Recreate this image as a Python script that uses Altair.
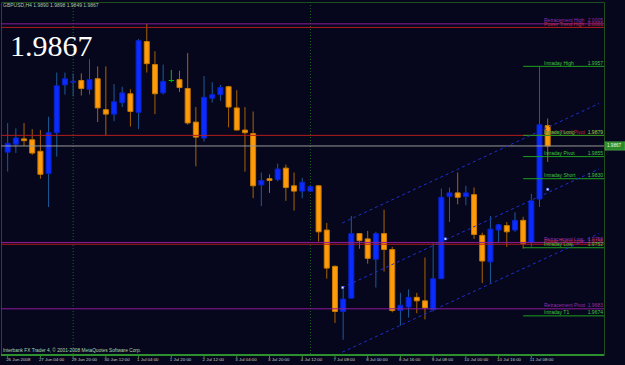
import altair as alt
import pandas as pd

# ---------------- data ----------------
opens = [1.9860, 1.9869, 1.9875, 1.9874, 1.9861, 1.9836, 1.9882, 1.9936, 1.9939, 1.9941,
         1.9931, 1.9943, 1.9908, 1.9903, 1.9916, 1.9926, 1.9905, 1.9985, 1.9959, 1.9927,
         1.9941, 1.9942, 1.9932, 1.9894, 1.9876, 1.9921, 1.9925, 1.9934, 1.9910, 1.9885,
         1.9881, 1.9823, 1.9830, 1.9829, 1.9842, 1.9822, 1.9816, 1.9816, 1.9822, 1.9772,
         1.9731, 1.9680, 1.9695, 1.9768, 1.9762, 1.9739, 1.9768, 1.9750, 1.9681, 1.9685,
         1.9696, 1.9692, 1.9682, 1.9717, 1.9810, 1.9814, 1.9810, 1.9812, 1.9766, 1.9736,
         1.9772, 1.9777, 1.9772, 1.9783, 1.9758, 1.9807, 1.9890]
highs = [1.9893, 1.9887, 1.9893, 1.9886, 1.9885, 1.9900, 1.9950, 1.9950, 1.9949, 1.9949,
         1.9965, 1.9957, 1.9957, 1.9937, 1.9934, 1.9931, 1.9988, 2.0005, 1.9974, 1.9959,
         1.9953, 1.9952, 1.9972, 1.9911, 1.9946, 1.9939, 1.9936, 1.9935, 1.9930, 1.9911,
         1.9906, 1.9837, 1.9835, 1.9847, 1.9846, 1.9837, 1.9831, 1.9823, 1.9823, 1.9780,
         1.9732, 1.9707, 1.9788, 1.9768, 1.9771, 1.9770, 1.9795, 1.9753, 1.9701, 1.9705,
         1.9701, 1.9741, 1.9757, 1.9819, 1.9820, 1.9837, 1.9822, 1.9820, 1.9769, 1.9788,
         1.9779, 1.9781, 1.9792, 1.9787, 1.9813, 1.9957, 1.9898]
lows = [1.9838, 1.9859, 1.9867, 1.9857, 1.9830, 1.9798, 1.9855, 1.9925, 1.9923, 1.9924,
        1.9925, 1.9894, 1.9879, 1.9895, 1.9911, 1.9889, 1.9886, 1.9950, 1.9903, 1.9925,
        1.9939, 1.9928, 1.9891, 1.9844, 1.9872, 1.9916, 1.9918, 1.9888, 1.9885, 1.9838,
        1.9808, 1.9799, 1.9814, 1.9827, 1.9805, 1.9794, 1.9808, 1.9815, 1.9759, 1.9717,
        1.9667, 1.9648, 1.9695, 1.9751, 1.9734, 1.9707, 1.9725, 1.9679, 1.9664, 1.9673,
        1.9678, 1.9671, 1.9680, 1.9717, 1.9781, 1.9801, 1.9800, 1.9762, 1.9712, 1.9712,
        1.9758, 1.9753, 1.9770, 1.9751, 1.9753, 1.9798, 1.9849]
closes = [1.9870, 1.9876, 1.9873, 1.9859, 1.9835, 1.9882, 1.9935, 1.9943, 1.9940, 1.9932,
          1.9942, 1.9910, 1.9903, 1.9917, 1.9927, 1.9906, 1.9986, 1.9960, 1.9926, 1.9940,
          1.9941, 1.9933, 1.9893, 1.9877, 1.9922, 1.9925, 1.9933, 1.9911, 1.9885, 1.9882,
          1.9822, 1.9828, 1.9828, 1.9841, 1.9820, 1.9816, 1.9826, 1.9821, 1.9770, 1.9729,
          1.9680, 1.9694, 1.9768, 1.9760, 1.9740, 1.9768, 1.9750, 1.9681, 1.9687, 1.9696,
          1.9692, 1.9684, 1.9717, 1.9809, 1.9814, 1.9809, 1.9814, 1.9767, 1.9737, 1.9773,
          1.9778, 1.9770, 1.9783, 1.9757, 1.9805, 1.9891, 1.9867]

time_labels = ["26 Jun 2008", "27 Jun 04:00", "29 Jun 20:00", "30 Jun 12:00", "1 Jul 04:00",
               "1 Jul 20:00", "2 Jul 12:00", "3 Jul 04:00", "3 Jul 20:00", "4 Jul 12:00",
               "7 Jul 08:00", "8 Jul 00:00", "8 Jul 16:00", "9 Jul 08:00", "10 Jul 00:00",
               "10 Jul 16:00", "11 Jul 08:00"]
time_label_bars = [0, 4, 8, 12, 16, 20, 24, 28, 32, 36, 40, 44, 48, 52, 56, 60, 64]
price_ticks = [1.9635, 1.9655, 1.9675, 1.9695, 1.9715, 1.9735, 1.9755, 1.9775, 1.9795, 1.9815,
               1.9835, 1.9855, 1.9875, 1.9895, 1.9915, 1.9935, 1.9955, 1.9975, 1.9995, 2.0015]
separator_bars = [8, 37]

# full-width horizontal objects
full_prices = [2.0005, 2.0001, 1.9879, 1.9758, 1.9756, 1.9683]
full_kinds = ["retr", "trend", "trend", "retr", "trend", "retr"]
bid_price = [1.9867]

# intraday levels (start at bar 63)
intraday_prices = [1.9957, 1.9879, 1.9855, 1.9830, 1.9752, 1.9675]
intraday_start = 63

# level captions
label_names = ["Retracement High", "Power Trend High", "Intraday High", "Power Trend Pivot",
               "Intraday Long", "Intraday Pivot", "Intraday Short", "Retracement Low",
               "Power Trend Low", "Intraday Low", "Retracement Pivot", "Intraday   T1"]
label_values = ["2.0005", "2.0001", "1.9957", "1.9879", "1.9879", "1.9855", "1.9830",
                "1.9758", "1.9756", "1.9752", "1.9683", "1.9674"]
label_prices = [2.0005, 2.0001, 1.9957, 1.9879, 1.9879, 1.9855, 1.9830, 1.9758, 1.9756,
                1.9752, 1.9683, 1.9675]
label_kinds = ["retr", "trend", "intra", "trend", "intra", "intra", "intra", "retr", "trend",
               "intra", "retr", "intra"]

# regression channel (bar position, price)
chan_x = [40.9, 72.27]
chan_upper = [1.9780, 1.9915]
chan_mid = [1.9707, 1.9841]
chan_lower = [1.9634, 1.9768]
marker_x = [40.94, 53.5, 66.0]
marker_y = [1.9707, 1.9762, 1.9818]

header = "GBPUSD,H4  1.9890 1.9898 1.9849 1.9867"
big_price = "1.9867"
copyright_txt = "Interbank FX Trader 4, \u00a9 2001-2008 MetaQuotes Software Corp."

# ---------------- styling ----------------
BG = "#06061c"
AX_GREEN = "#2f8f2f"
LBL = "#c8d0c8"
KIND_LINE = {"retr": "#8c1c9c", "trend": "#b41c1c", "intra": "#1ea01e"}
KIND_TEXT = {"retr": "#9a2eaa", "trend": "#c42838", "intra": "#3cc83c"}

xs = alt.Scale(domain=[-0.204, 72.27], nice=False, zero=False)
ys = alt.Scale(domain=[1.96308, 2.00297], nice=False, zero=False)

y_axis = alt.Axis(orient="right", values=price_ticks, format=".4f", labelFontSize=4.6,
                  labelColor=LBL, labelFont="Liberation Sans", tickColor=AX_GREEN,
                  domainColor=AX_GREEN, tickSize=2, labelPadding=1, grid=False, title=None,
                  labelOverlap=False)

n = len(opens)
candles = pd.DataFrame({"i": list(range(n)), "open": opens, "high": highs,
                        "low": lows, "close": closes})

base = alt.Chart(candles).transform_calculate(
    wick="datum.close > datum.open ? '#1d5c98' : (datum.close < datum.open ? '#a86400' : '#00c000')",
    fillc="datum.close > datum.open ? '#0a2cff' : (datum.close < datum.open ? '#ff9a0a' : '#00c000')",
    edge="datum.close > datum.open ? '#0a22c8' : (datum.close < datum.open ? '#c87a00' : '#00c000')",
)

wicks = base.mark_rule(strokeWidth=1).encode(
    x=alt.X("i:Q", scale=xs, axis=None),
    y=alt.Y("low:Q", scale=ys, axis=y_axis),
    y2="high:Q",
    color=alt.Color("wick:N", scale=None),
)
bodies = base.mark_bar(size=5, strokeWidth=1).encode(
    x=alt.X("i:Q", scale=xs, axis=None),
    y=alt.Y("open:Q", scale=ys, axis=None),
    y2="close:Q",
    fill=alt.Fill("fillc:N", scale=None),
    stroke=alt.Stroke("edge:N", scale=None),
)

# time axis drawn from the label arrays
tdf = pd.DataFrame({"i": time_label_bars, "t": time_labels})
x_domain = alt.Chart(tdf).mark_rule(color=AX_GREEN, strokeWidth=1).encode(
    x=alt.value(0), x2=alt.value(603), y=alt.value(353))
x_ticks = alt.Chart(tdf).mark_rule(color=AX_GREEN, strokeWidth=1).encode(
    x=alt.X("i:Q", scale=xs, axis=None), y=alt.value(353), y2=alt.value(356))
x_labels = alt.Chart(tdf).mark_text(
    align="left", baseline="top", fontSize=4.4, font="Liberation Sans", color=LBL, dx=-1.5
).encode(x=alt.X("i:Q", scale=xs, axis=None), y=alt.value(355.5), text="t:N")

seps = alt.Chart(pd.DataFrame({"i": separator_bars})).mark_rule(
    color="#1c6c1c", strokeDash=[1, 2], strokeWidth=1
).encode(x=alt.X("i:Q", scale=xs, axis=None), y=alt.value(0), y2=alt.value(353))

full_df = pd.DataFrame({"p": full_prices, "k": full_kinds})
full_lines = alt.Chart(full_df).transform_calculate(
    c="datum.k == 'retr' ? '%s' : '%s'" % (KIND_LINE["retr"], KIND_LINE["trend"])
).mark_rule(strokeWidth=1).encode(
    y=alt.Y("p:Q", scale=ys, axis=None), x=alt.value(0), x2=alt.value(603),
    color=alt.Color("c:N", scale=None),
)
bid_line = alt.Chart(pd.DataFrame({"p": bid_price})).mark_rule(
    color="#9a9a9a", strokeWidth=1
).encode(y=alt.Y("p:Q", scale=ys, axis=None), x=alt.value(0), x2=alt.value(603))

intra_df = pd.DataFrame({"p": intraday_prices, "s": [intraday_start] * len(intraday_prices)})
intra_lines = alt.Chart(intra_df).mark_rule(color=KIND_LINE["intra"], strokeWidth=1).encode(
    y=alt.Y("p:Q", scale=ys, axis=None),
    x=alt.X("s:Q", scale=xs, axis=None), x2=alt.value(603),
)

chan_rows = []
for name, arr in (("u", chan_upper), ("m", chan_mid), ("l", chan_lower)):
    for xv, yv in zip(chan_x, arr):
        chan_rows.append({"line": name, "x": xv, "y": yv})
channel = alt.Chart(pd.DataFrame(chan_rows)).mark_line(
    color="#1f2fd0", strokeDash=[3, 3], strokeWidth=1
).encode(
    x=alt.X("x:Q", scale=xs, axis=None), y=alt.Y("y:Q", scale=ys, axis=None), detail="line:N"
)
markers = alt.Chart(pd.DataFrame({"x": marker_x, "y": marker_y})).mark_point(
    shape="square", filled=True, fill="#ffffff", stroke="#3050ff", strokeWidth=0.6, size=5, opacity=1
).encode(x=alt.X("x:Q", scale=xs, axis=None), y=alt.Y("y:Q", scale=ys, axis=None))

lab_df = pd.DataFrame({"name": label_names, "val": label_values, "p": label_prices, "k": label_kinds})
color_expr = "datum.k == 'retr' ? '%s' : (datum.k == 'trend' ? '%s' : '%s')" % (
    KIND_TEXT["retr"], KIND_TEXT["trend"], KIND_TEXT["intra"])
lab_base = alt.Chart(lab_df).transform_calculate(c=color_expr)
lab_names = lab_base.mark_text(align="left", baseline="bottom", dy=-0.5, fontSize=5,
                               font="Liberation Sans").encode(
    x=alt.value(543), y=alt.Y("p:Q", scale=ys, axis=None), text="name:N",
    color=alt.Color("c:N", scale=None))
lab_vals = lab_base.mark_text(align="right", baseline="bottom", dy=-0.5, fontSize=5,
                              font="Liberation Sans").encode(
    x=alt.value(602), y=alt.Y("p:Q", scale=ys, axis=None), text="val:N",
    color=alt.Color("c:N", scale=None))

bid_box = alt.Chart(pd.DataFrame({"p": bid_price})).mark_point(
    shape="M-1,-0.42L1,-0.42L1,0.42L-1,0.42Z", filled=True, fill="#2a8a2a",
    stroke="#60c060", strokeWidth=0.5, size=400, opacity=1
).encode(x=alt.value(614), y=alt.Y("p:Q", scale=ys, axis=None))
bid_txt = alt.Chart(pd.DataFrame({"p": bid_price, "t": [big_price]})).mark_text(
    align="left", baseline="middle", fontSize=4.6, font="Liberation Sans", color="#e8ffe8"
).encode(x=alt.value(606), y=alt.Y("p:Q", scale=ys, axis=None), text="t:N")

head = alt.Chart(pd.DataFrame({"t": [header]})).mark_text(
    align="left", baseline="middle", fontSize=5, font="Liberation Sans", color="#a8c8a8"
).encode(x=alt.value(2), y=alt.value(3), text="t:N")
big = alt.Chart(pd.DataFrame({"t": [big_price]})).mark_text(
    align="left", baseline="alphabetic", fontSize=30, font="Liberation Serif", color="#ffffff"
).encode(x=alt.value(9), y=alt.value(54), text="t:N")
copy_t = alt.Chart(pd.DataFrame({"t": [copyright_txt]})).mark_text(
    align="left", baseline="middle", fontSize=4.8, font="Liberation Sans", color="#b0dcb0"
).encode(x=alt.value(2), y=alt.value(349), text="t:N")

chart = alt.layer(
    wicks, seps, bodies, full_lines, bid_line, intra_lines, channel, markers,
    lab_names, lab_vals, bid_box, bid_txt, head, big, copy_t,
    x_domain, x_ticks, x_labels
).properties(
    width=603, height=353, background=BG,
    padding={"left": 1, "top": 2, "right": 21, "bottom": 10},
    autosize=alt.AutoSizeParams(type="none"),
).configure_view(stroke="#1e4e1e", strokeWidth=1, fill=BG)

chart.save("out.html", embed_options={"renderer": "svg", "actions": False})
